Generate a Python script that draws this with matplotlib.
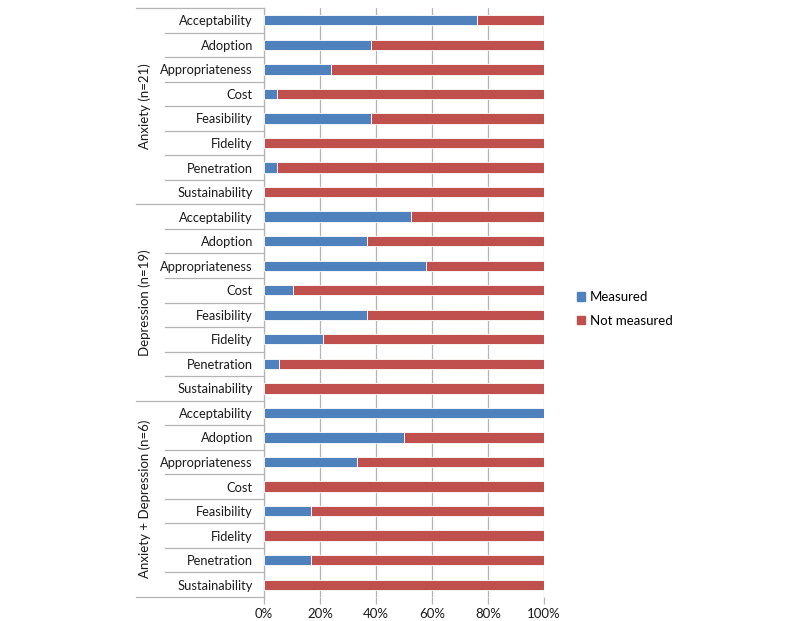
import matplotlib.pyplot as plt
import matplotlib.transforms as mtransforms
from matplotlib.patches import Patch

plt.rcParams['font.family'] = ['Lato', 'DejaVu Sans']

groups = ['Anxiety (n=21)', 'Depression (n=19)', 'Anxiety + Depression (n=6)']
outcomes = ['Acceptability', 'Adoption', 'Appropriateness', 'Cost',
            'Feasibility', 'Fidelity', 'Penetration', 'Sustainability']

# percent of studies that measured each outcome
measured_anx = [76.2, 38.1, 23.8, 4.8, 38.1, 0, 4.8, 0]
measured_dep = [52.6, 36.8, 57.9, 10.5, 36.8, 21.1, 5.3, 0]
measured_both = [100, 50, 33.3, 0, 16.7, 0, 16.7, 0]

measured = measured_anx + measured_dep + measured_both
not_measured = [100 - v for v in measured]
labels = outcomes * 3

blue = '#4F81BD'
red = '#C0504D'
grid_col = '#b4b4b4'
txt = '#1a1a1a'

fig = plt.figure(figsize=(8, 6.21), dpi=100)
ax = fig.add_axes([264 / 800, 1 - 597 / 621, 280 / 800, 589 / 621])

y = list(range(len(labels)))
h = 0.42
ax.barh(y, measured, height=h, color=blue, edgecolor='white', linewidth=0.6, zorder=3)
ax.barh(y, not_measured, left=measured, height=h, color=red, edgecolor='white',
        linewidth=0.6, zorder=3)

ax.set_ylim(len(labels) - 0.5, -0.5)
ax.set_xlim(0, 100)
ax.set_xticks([0, 20, 40, 60, 80, 100])
ax.set_xticklabels(['0%', '20%', '40%', '60%', '80%', '100%'], fontsize=9.5, color=txt)
ax.xaxis.grid(True, color=grid_col, linewidth=0.9, zorder=0)
ax.tick_params(axis='x', length=5, width=0.9, color=grid_col, pad=3)

ax.set_yticks(y)
ax.set_yticklabels(labels, fontsize=9.3, color=txt)
ax.tick_params(axis='y', length=0, pad=8)

for s in ['top', 'right', 'bottom']:
    ax.spines[s].set_visible(False)
ax.spines['left'].set_color(grid_col)
ax.spines['left'].set_linewidth(0.9)

# separator lines on the category axis
trans = mtransforms.blended_transform_factory(ax.transAxes, ax.transData)
for i in range(len(labels) + 1):
    yy = i - 0.5
    x0 = -0.457 if i % 8 == 0 else -0.354
    ax.plot([x0, 0], [yy, yy], color=grid_col, linewidth=0.9, transform=trans,
            clip_on=False)

for g, name in enumerate(groups):
    ax.text(-0.425, g * 8 + 3.5, name, transform=trans, rotation=90,
            ha='center', va='center', fontsize=9.5, color=txt)

handles = [Patch(color=blue, label='Measured'), Patch(color=red, label='Not measured')]
fig.legend(handles=handles, loc='center left', bbox_to_anchor=(565 / 800, 1 - 309 / 621),
           frameon=False, fontsize=9.5, handlelength=0.6, handleheight=0.6,
           handletextpad=0.4, labelspacing=0.9)

fig.savefig('out.png', dpi=100)
